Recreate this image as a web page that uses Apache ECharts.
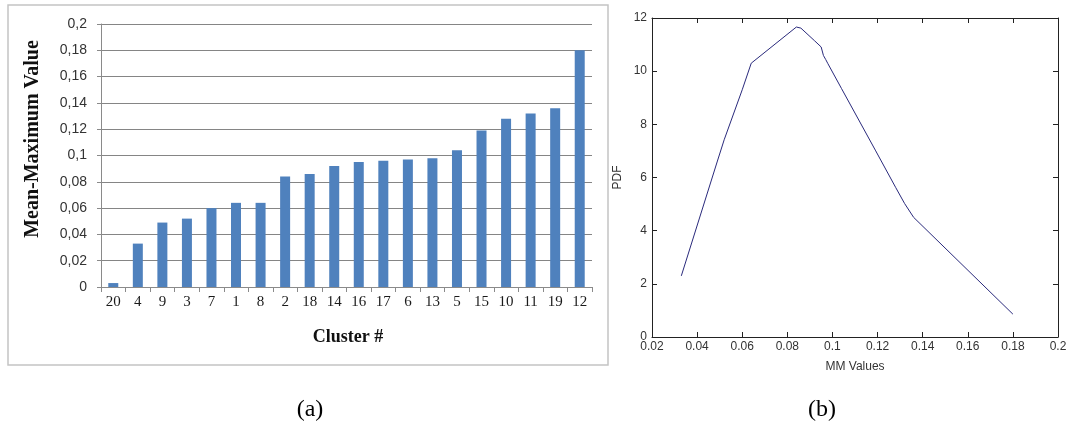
<!DOCTYPE html>
<html>
<head>
<meta charset="utf-8">
<script src="https://cdn.jsdelivr.net/npm/echarts@6/dist/echarts.min.js"></script>
<style>
  html, body { margin: 0; padding: 0; background: #fff; }
  #chart { width: 1071px; height: 441px; }
</style>
</head>
<body>
<div id="chart"></div>
<script>
// (a) Mean-maximum value per cluster, sorted ascending
const clusters = ['20', '4', '9', '3', '7', '1', '8', '2', '18', '14', '16', '17', '6', '13', '5', '15', '10', '11', '19', '12'];
const meanMax = [0.003, 0.033, 0.049, 0.052, 0.060, 0.064, 0.064, 0.084, 0.086, 0.092, 0.095, 0.096, 0.097, 0.098, 0.104, 0.119, 0.128, 0.132, 0.136, 0.180];

// (b) Estimated PDF of the MM values
const mmValues = [0.033, 0.049, 0.052, 0.060, 0.064, 0.084, 0.086, 0.092, 0.095, 0.096, 0.097, 0.098, 0.104, 0.119, 0.128, 0.132, 0.136, 0.180];
const pdfValues = [2.30, 6.62, 7.42, 9.30, 10.30, 11.66, 11.62, 11.15, 10.91, 10.59, 10.44, 10.28, 9.35, 7.03, 5.63, 5.02, 4.50, 0.86];

const pdfPoints = mmValues.map((x, i) => [x, pdfValues[i]]);

const chart = echarts.init(document.getElementById('chart'), null, { renderer: 'canvas' });

const serif = '"Liberation Serif", "Times New Roman", serif';
const sans = '"Liberation Sans", Arial, sans-serif';

const commaFmt = v => String(+(+v).toFixed(2)).replace('.', ',');

const option = {
  backgroundColor: '#ffffff',
  animation: false,
  grid: [
    { left: 101, top: 24, width: 491, height: 263 },
    { left: 652, top: 18, width: 406, height: 319 }
  ],
  xAxis: [
    {
      gridIndex: 0,
      type: 'category',
      data: clusters,
      boundaryGap: true,
      axisLine: { lineStyle: { color: '#8a8a8a', width: 1 } },
      axisTick: { show: true, length: 5, alignWithLabel: false, lineStyle: { color: '#8a8a8a' } },
      axisLabel: { color: '#1a1a1a', fontFamily: serif, fontSize: 15, margin: 8, interval: 0 },
      splitLine: { show: false }
    },
    {
      gridIndex: 1,
      type: 'value',
      min: 0.02, max: 0.2, interval: 0.02,
      position: 'bottom',
      name: 'MM Values',
      nameLocation: 'middle',
      nameGap: 24,
      nameTextStyle: { color: '#333', fontFamily: sans, fontSize: 12 },
      axisLine: { onZero: false, lineStyle: { color: '#222', width: 1 } },
      axisTick: { inside: true, length: 5, lineStyle: { color: '#222' } },
      axisLabel: { color: '#333', fontFamily: sans, fontSize: 12, margin: 4,
        formatter: v => String(+(+v).toFixed(2)) },
      splitLine: { show: false }
    },
    {
      gridIndex: 1,
      type: 'value',
      min: 0.02, max: 0.2, interval: 0.02,
      position: 'top',
      axisLine: { onZero: false, lineStyle: { color: '#222', width: 1 } },
      axisTick: { inside: true, length: 5, lineStyle: { color: '#222' } },
      axisLabel: { show: false },
      splitLine: { show: false }
    }
  ],
  yAxis: [
    {
      gridIndex: 0,
      type: 'value',
      min: 0, max: 0.2, interval: 0.02,
      axisLine: { show: true, lineStyle: { color: '#8a8a8a', width: 1 } },
      axisTick: { show: true, length: 4, lineStyle: { color: '#8a8a8a' } },
      axisLabel: { color: '#333', fontFamily: sans, fontSize: 14, margin: 14, formatter: commaFmt },
      splitLine: { show: true, lineStyle: { color: '#858585', width: 1 } }
    },
    {
      gridIndex: 1,
      type: 'value',
      min: 0, max: 12, interval: 2,
      position: 'left',
      name: 'PDF',
      nameLocation: 'middle',
      nameGap: 28,
      nameRotate: 90,
      nameTextStyle: { color: '#333', fontFamily: sans, fontSize: 12 },
      axisLine: { show: true, onZero: false, lineStyle: { color: '#222', width: 1 } },
      axisTick: { show: true, inside: true, length: 5, lineStyle: { color: '#222' } },
      axisLabel: { color: '#333', fontFamily: sans, fontSize: 12, margin: 5 },
      splitLine: { show: false }
    },
    {
      gridIndex: 1,
      type: 'value',
      min: 0, max: 12, interval: 2,
      position: 'right',
      axisLine: { show: true, onZero: false, lineStyle: { color: '#222', width: 1 } },
      axisTick: { show: true, inside: true, length: 5, lineStyle: { color: '#222' } },
      axisLabel: { show: false },
      splitLine: { show: false }
    }
  ],
  series: [
    {
      type: 'bar',
      xAxisIndex: 0,
      yAxisIndex: 0,
      data: meanMax,
      barWidth: 10,
      itemStyle: { color: '#4F81BD' }
    },
    {
      type: 'line',
      xAxisIndex: 1,
      yAxisIndex: 1,
      data: pdfPoints,
      showSymbol: false,
      smooth: false,
      lineStyle: { color: '#2a2a7c', width: 1 }
    }
  ],
  graphic: [
    // panel frame around the bar chart
    {
      type: 'rect',
      shape: { x: 8, y: 5, width: 600, height: 360 },
      style: { fill: 'none', stroke: '#c4c4c4', lineWidth: 1.5 },
      silent: true
    },
    {
      type: 'text',
      x: 33, y: 139,
      rotation: Math.PI / 2,
      style: {
        text: 'Mean-Maximum Value',
        font: 'bold 20px ' + serif,
        fill: '#111',
        textAlign: 'center',
        textVerticalAlign: 'middle'
      }
    },
    {
      type: 'text',
      x: 348, y: 337,
      style: {
        text: 'Cluster #',
        font: 'bold 18px ' + serif,
        fill: '#111',
        textAlign: 'center',
        textVerticalAlign: 'middle'
      }
    },
    {
      type: 'text',
      x: 310, y: 410,
      style: {
        text: '(a)',
        font: '24px ' + serif,
        fill: '#000',
        textAlign: 'center',
        textVerticalAlign: 'middle'
      }
    },
    {
      type: 'text',
      x: 822, y: 410,
      style: {
        text: '(b)',
        font: '24px ' + serif,
        fill: '#000',
        textAlign: 'center',
        textVerticalAlign: 'middle'
      }
    }
  ]
};

chart.setOption(option);
</script>
</body>
</html>
